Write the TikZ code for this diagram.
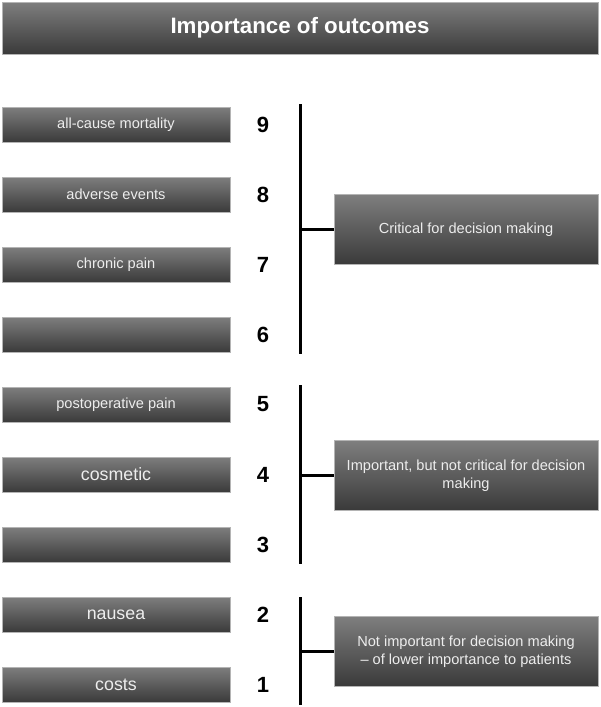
\documentclass[tikz,border=0pt]{standalone}
\usepackage{fontspec}
\setmainfont{Liberation Sans}
\usepackage{tikz}
\usetikzlibrary{positioning,calc}

\definecolor{boxtop}{HTML}{7E7E7E}
\definecolor{boxbot}{HTML}{3A3A3A}
\definecolor{boxline}{HTML}{B4B4B4}
\definecolor{boxtext}{HTML}{EDEDED}

\begin{document}
\begin{tikzpicture}[
  x=1pt, y=-1pt,
  greybox/.style={rectangle, draw=boxline, top color=boxtop, bottom color=boxbot,
                  text=boxtext, inner sep=2pt, align=center},
  outcome/.style={greybox, minimum width=228pt, minimum height=35pt},
  group/.style={greybox, minimum width=264pt, minimum height=70pt,
                font=\fontsize{14.6}{18}\selectfont},
  score/.style={font=\fontsize{22}{22}\selectfont\bfseries},
  bar/.style={line width=3pt}
]
  \useasboundingbox (0,0) rectangle (600,707);

  \node[greybox, minimum width=596pt, minimum height=52pt,
        font=\fontsize{22.3}{22}\selectfont\bfseries, text=white] (title) at (300,28) {Importance of outcomes};

  % outcome boxes and scores
  \foreach \r/\txt/\fs in {9/{all-cause mortality}/14.6, 8/{adverse events}/14.6,
      7/{chronic pain}/14.6, 6/{}/14.6, 5/{postoperative pain}/14.6, 4/{cosmetic}/17.8,
      3/{}/14.6, 2/{nausea}/17.8, 1/{costs}/17.8} {
    \pgfmathsetmacro{\yy}{124.5+(9-\r)*70}
    \node[outcome, font=\fontsize{\fs}{\fs}\selectfont] (o\r) at (116,\yy) {\txt};
    \node[score] (n\r) at (263,\yy) {\r};
  }

  % groups
  \node[group] (critical) at (466,229.5) {Critical for decision making};
  \node[group] (important) at (466,475.5) {Important, but not critical for decision\\making};
  \node[group] (notimp) at (466,651.5) {Not important for decision making\\\mbox{}-- of lower importance to patients};

  % brackets
  \coordinate (c1) at (300,104);
  \coordinate (c2) at (300,354);
  \coordinate (i1) at (300,385);
  \coordinate (i2) at (300,564);
  \coordinate (u1) at (300,597);
  \coordinate (u2) at (300,705);

  \draw[bar] (c1) -- (c2);
  \draw[bar] (i1) -- (i2);
  \draw[bar] (u1) -- (u2);
  \draw[bar] (c1 |- critical.west) -- (critical.west);
  \draw[bar] (i1 |- important.west) -- (important.west);
  \draw[bar] (u1 |- notimp.west) -- (notimp.west);
\end{tikzpicture}
\end{document}
